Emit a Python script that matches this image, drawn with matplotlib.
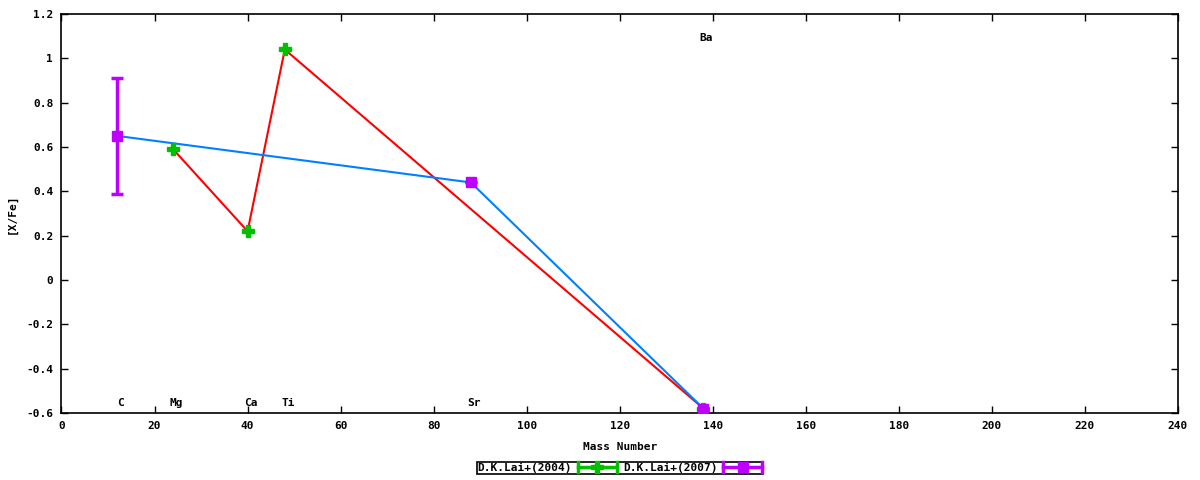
import matplotlib
matplotlib.use("Agg")
import matplotlib.pyplot as plt
from matplotlib.lines import Line2D
from matplotlib.legend_handler import HandlerBase
from matplotlib.ticker import FuncFormatter, MultipleLocator

# D.K.Lai+(2004)
mass_2004 = [24, 40, 48, 138]
xfe_2004 = [0.59, 0.22, 1.04, -0.58]
# D.K.Lai+(2007)
mass_2007 = [12, 88, 138]
xfe_2007 = [0.65, 0.44, -0.58]
err_2007 = [0.26, 0.0, 0.0]

# element labels
elem_names = ["C", "Mg", "Ca", "Ti", "Sr", "Ba"]
elem_mass = [12, 24, 40, 48, 88, 138]
elem_y = [-0.555, -0.555, -0.555, -0.555, -0.555, 1.09]

GREEN = "#00c000"
MAGENTA = "#c000ff"
RED = "#ff0000"
BLUE = "#0080ff"

plt.rcParams['font.family'] = ['DejaVu Sans Mono']
plt.rcParams['font.weight'] = 'bold'
plt.rcParams['font.size'] = 8


class ErrbarHandler(HandlerBase):
    # gnuplot-like legend sample: horizontal bar, caps at ends, marker in middle
    def __init__(self, color, marker, ms):
        super().__init__()
        self.color, self.marker, self.ms = color, marker, ms

    def create_artists(self, legend, orig_handle, xdescent, ydescent,
                       width, height, fontsize, trans):
        y = height / 2 - ydescent
        x0, x1 = -xdescent, width - xdescent
        arts = [Line2D([x0, x1], [y, y], color=self.color, lw=2.5)]
        for xx in (x0, x1):
            arts.append(Line2D([xx, xx], [y - 3.5, y + 3.5], color=self.color, lw=2.5))
        arts.append(Line2D([(x0 + x1) / 2], [y], color=self.color,
                           marker=self.marker, ms=self.ms, lw=0))
        for a in arts:
            a.set_transform(trans)
        return arts


fig = plt.figure(figsize=(12, 4.8), dpi=100)
ax = fig.add_axes([61.5 / 1200, 1 - 413 / 480, (1178 - 61.5) / 1200, (413 - 14) / 480])

ax.plot(mass_2004, xfe_2004, color=RED, lw=1.5, zorder=2)
ax.plot(mass_2007, xfe_2007, color=BLUE, lw=1.5, zorder=2)

h1 = ax.errorbar(mass_2004, xfe_2004, yerr=[0] * len(mass_2004), fmt='P',
                 color=GREEN, ms=8, elinewidth=2.5, capsize=0, zorder=3)
h2 = ax.errorbar(mass_2007, xfe_2007, yerr=err_2007, fmt='s',
                 color=MAGENTA, ms=7, elinewidth=2.5, capsize=4, capthick=2.5, zorder=4)

for name, m, yv in zip(elem_names, elem_mass, elem_y):
    ax.annotate(name, (m, yv), xytext=(2.2, 0), textcoords='offset points',
                ha='center', va='center', fontsize=8, fontweight='bold')

ax.set_xlim(0, 240)
ax.set_ylim(-0.6, 1.2)
ax.xaxis.set_major_locator(MultipleLocator(20))
ax.yaxis.set_major_locator(MultipleLocator(0.2))
fmt = FuncFormatter(lambda v, p: "%g" % round(v, 3))
ax.xaxis.set_major_formatter(fmt)
ax.yaxis.set_major_formatter(fmt)
ax.tick_params(direction='in', length=5, width=1, top=True, right=True,
               labelsize=8, pad=6)
for s in ax.spines.values():
    s.set_linewidth(1.2)

ax.set_xlabel("Mass Number", fontsize=8, fontweight='bold', labelpad=8)
ax.set_ylabel("[X/Fe]", fontsize=8, fontweight='bold', labelpad=7)

leg = fig.legend([h1, h2], ["D.K.Lai+(2004)", "D.K.Lai+(2007)"],
                 handler_map={h1: ErrbarHandler(GREEN, 'P', 8),
                              h2: ErrbarHandler(MAGENTA, 's', 7)},
                 loc='center', bbox_to_anchor=(620 / 1200, 1 - 468 / 480),
                 ncol=2, markerfirst=False, fancybox=False, frameon=True,
                 edgecolor='black', framealpha=1, borderpad=0.1,
                 handlelength=3.5, handletextpad=0.5, columnspacing=0.6,
                 borderaxespad=0, fontsize=8)
leg.get_frame().set_linewidth(1.2)

fig.savefig("out.png", dpi=100)
